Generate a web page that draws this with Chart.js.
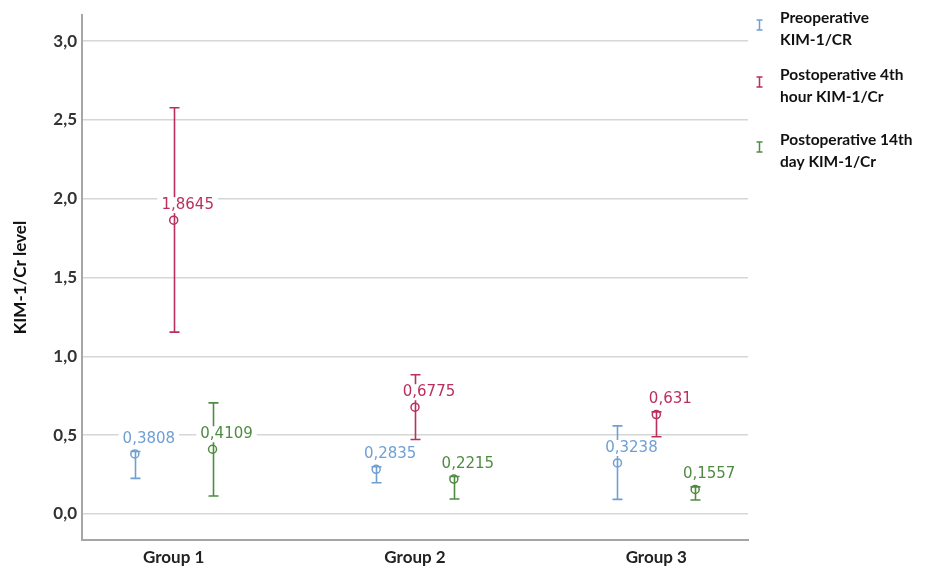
<!DOCTYPE html>
<html>
<head>
<meta charset="utf-8">
<script src="https://cdn.jsdelivr.net/npm/chart.js@4/dist/chart.umd.min.js"></script>
<style>
  html, body { margin: 0; padding: 0; background: #ffffff; }
  #wrap { width: 928px; height: 573px; position: relative; }
</style>
</head>
<body>
<div id="wrap"><canvas id="c" width="928" height="573"></canvas></div>
<script>
// Groups on the x axis
const categories = ['Group 1', 'Group 2', 'Group 3'];

// Series names (legend, two lines each)
const seriesLabels = [
  ['Preoperative', 'KIM-1/CR'],
  ['Postoperative 4th', 'hour KIM-1/Cr'],
  ['Postoperative 14th', 'day KIM-1/Cr']
];

// Preoperative KIM-1/CR: mean, lower and upper bar ends
const preMean = [0.3808, 0.2835, 0.3238];
const preLow  = [0.226, 0.198, 0.093];
const preHigh = [0.397, 0.300, 0.559];

// Postoperative 4th hour KIM-1/Cr
const h4Mean = [1.8645, 0.6775, 0.631];
const h4Low  = [1.154, 0.473, 0.490];
const h4High = [2.578, 0.884, 0.648];

// Postoperative 14th day KIM-1/Cr
const d14Mean = [0.4109, 0.2215, 0.1557];
const d14Low  = [0.114, 0.095, 0.089];
const d14High = [0.705, 0.238, 0.172];

// Value labels as printed (comma decimal)
const preText = ['0,3808', '0,2835', '0,3238'];
const h4Text  = ['1,8645', '0,6775', '0,631'];
const d14Text = ['0,4109', '0,2215', '0,1557'];

// Y axis tick values
const yTicks = [0, 0.5, 1.0, 1.5, 2.0, 2.5, 3.0];

const colors = ['#6f9fd3', '#bb2f5c', '#4f8c41'];
const clusterOffset = [-0.161, 0, 0.161];

function buildSeries(mean, low, high, text, k) {
  return mean.map((m, i) => ({
    x: i + 1 + clusterOffset[k],
    y: m,
    lo: low[i],
    hi: high[i],
    label: text[i]
  }));
}

const seriesData = [
  buildSeries(preMean, preLow, preHigh, preText, 0),
  buildSeries(h4Mean, h4Low, h4High, h4Text, 1),
  buildSeries(d14Mean, d14Low, d14High, d14Text, 2)
];

const errorBars = {
  id: 'errorBars',
  afterDatasetsDraw(chart) {
    const ctx = chart.ctx;
    const xs = chart.scales.x, ys = chart.scales.y;
    ctx.save();
    // whiskers and caps
    chart.data.datasets.forEach((ds, k) => {
      ctx.strokeStyle = colors[k];
      ctx.lineWidth = 1.6;
      ds.data.forEach(p => {
        const px = Math.round(xs.getPixelForValue(p.x)) + 0.5;
        const pLo = ys.getPixelForValue(p.lo);
        const pHi = ys.getPixelForValue(p.hi);
        ctx.beginPath();
        ctx.moveTo(px, pLo); ctx.lineTo(px, pHi);
        ctx.moveTo(px - 5, pLo); ctx.lineTo(px + 5, pLo);
        ctx.moveTo(px - 5, pHi); ctx.lineTo(px + 5, pHi);
        ctx.stroke();
      });
    });
    // value labels on white boxes
    ctx.font = '15px "DejaVu Sans"';
    ctx.textAlign = 'center';
    ctx.textBaseline = 'middle';
    chart.data.datasets.forEach((ds, k) => {
      ds.data.forEach(p => {
        const px = xs.getPixelForValue(p.x) + 14;
        const py = ys.getPixelForValue(p.y) - 15;
        const w = ctx.measureText(p.label).width;
        ctx.fillStyle = '#ffffff';
        ctx.fillRect(px - w / 2 - 4, py - 8, w + 8, 16);
        ctx.fillStyle = colors[k];
        ctx.fillText(p.label, px, py);
      });
    });
    ctx.restore();
  },
  afterDraw(chart) {
    // legend on the right
    const ctx = chart.ctx;
    const x0 = chart.chartArea.right;
    const tops = [18, 75, 140];
    ctx.save();
    seriesLabels.forEach((lines, k) => {
      const sy = tops[k] + 7;
      const sx = x0 + 11.5;
      ctx.strokeStyle = colors[k];
      ctx.lineWidth = 1.5;
      ctx.beginPath();
      ctx.moveTo(sx, sy - 5); ctx.lineTo(sx, sy + 5);
      ctx.moveTo(sx - 3, sy - 5); ctx.lineTo(sx + 3, sy - 5);
      ctx.moveTo(sx - 3, sy + 5); ctx.lineTo(sx + 3, sy + 5);
      ctx.stroke();
      ctx.fillStyle = '#111111';
      ctx.font = 'bold 15.5px Lato';
      ctx.textAlign = 'left';
      ctx.textBaseline = 'middle';
      lines.forEach((t, j) => ctx.fillText(t, x0 + 32, tops[k] + j * 22));
    });
    ctx.restore();
  }
};

new Chart(document.getElementById('c'), {
  type: 'scatter',
  data: {
    datasets: seriesData.map((d, k) => ({
      label: seriesLabels[k].join(' '),
      data: d,
      pointStyle: 'circle',
      pointRadius: 4,
      pointHoverRadius: 4,
      pointBorderWidth: 1.5,
      borderColor: colors[k],
      backgroundColor: 'rgba(0,0,0,0)'
    }))
  },
  options: {
    responsive: false,
    animation: false,
    events: [],
    layout: { padding: { left: 0, right: 180, top: 13, bottom: 0 } },
    plugins: { legend: { display: false }, tooltip: { enabled: false } },
    scales: {
      x: {
        type: 'linear',
        min: 0.62,
        max: 3.38,
        afterBuildTicks(axis) { axis.ticks = categories.map((c, i) => ({ value: i + 1 })); },
        afterFit(scale) { scale.height = 33; },
        ticks: {
          padding: 7,
          color: '#222222',
          font: { family: 'Lato', size: 17, weight: 'bold' },
          callback: (v) => categories[Math.round(v) - 1]
        },
        grid: { display: true, drawOnChartArea: false, drawTicks: false },
        border: { display: true, color: '#a6a6a6', width: 2 }
      },
      y: {
        min: -0.165,
        max: 3.165,
        afterBuildTicks(axis) { axis.ticks = yTicks.map(v => ({ value: v })); },
        afterFit(scale) { scale.width = 82; },
        ticks: {
          padding: 5,
          color: '#333333',
          font: { family: 'Lato', size: 17, weight: 'bold' },
          callback: (v) => v.toFixed(1).replace('.', ',')
        },
        grid: { color: '#d6d6d6', lineWidth: 1.5, drawTicks: false },
        border: { display: true, color: '#a6a6a6', width: 2 },
        title: {
          display: true,
          text: 'KIM-1/Cr level',
          color: '#111111',
          font: { family: 'Lato', size: 17, weight: 'bold' },
          padding: { top: 10, bottom: 0 }
        }
      }
    }
  },
  plugins: [errorBars]
});
</script>
</body>
</html>
